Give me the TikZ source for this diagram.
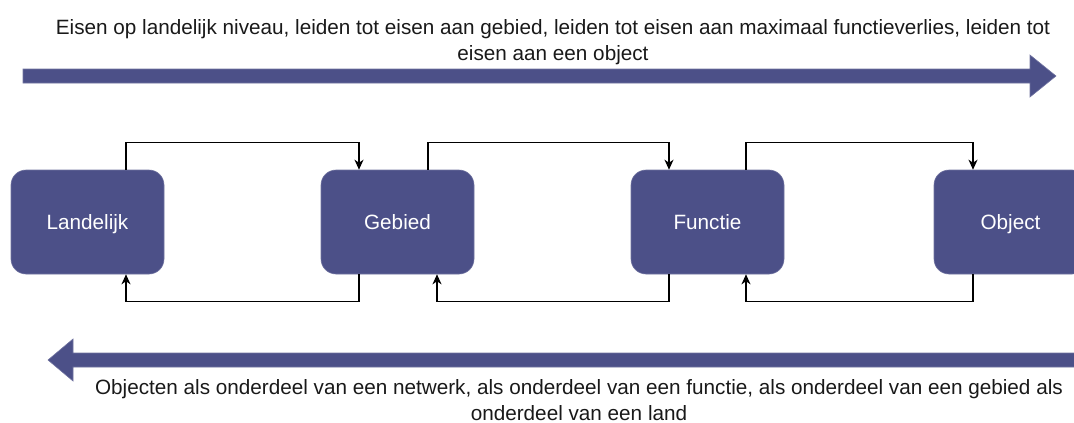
\documentclass[tikz,border=0pt]{standalone}
\usepackage{fontspec}
\setmainfont{Liberation Sans}
\usetikzlibrary{arrows.meta}
\definecolor{boxblue}{HTML}{4C5088}

\begin{document}
\begin{tikzpicture}[x=1pt,y=-1pt,
    blok/.style={rectangle,rounded corners=15pt,fill=boxblue,draw=boxblue!80!white,line width=0.6pt,
      minimum width=153pt,minimum height=104pt,inner sep=0pt,text height=15pt,text depth=0pt,
      text=white,font=\fontsize{20.7}{24}\selectfont},
    pijl/.style={line width=1.3pt,-{Stealth[length=10pt,width=9pt,inset=3pt]}},
    tekst/.style={align=center,inner sep=0pt,text=black!90,font=\fontsize{20.7}{26}\selectfont}]
  \useasboundingbox (0,0) rectangle (1074,423);
  % brede pijlen boven en onder
  \filldraw[boxblue,draw=boxblue!80!white,line width=0.6pt] (23,69) -- (1030,69) -- (1030,55) -- (1056,76)
    -- (1030,97) -- (1030,83) -- (23,83) -- cycle;
  \filldraw[boxblue,draw=boxblue!80!white,line width=0.6pt] (1080,353) -- (73,353) -- (73,339) -- (48,360)
    -- (73,381) -- (73,367) -- (1080,367) -- cycle;
  \node[tekst] (boven) at (553,42) {Eisen op landelijk niveau, leiden tot eisen aan gebied, leiden tot eisen aan maximaal functieverlies, leiden tot\\eisen aan een object};
  \node[tekst] (onder) at (579,400) {Objecten als onderdeel van een netwerk, als onderdeel van een functie, als onderdeel van een gebied als\\onderdeel van een land};
  % niveaus
  \node[blok] (land) at (87.5,222) {Landelijk};
  \node[blok] (geb) at (397.5,222) {Gebied};
  \node[blok] (func) at (707.5,222) {Functie};
  \node[blok] (obj) at (1010.5,222) {Object};
  % naar rechts, over de bovenkant
  \draw[pijl] ([xshift=38.5pt]land.north) -- ++(0,-27) -| ([xshift=-38.5pt]geb.north);
  \draw[pijl] ([xshift=30.5pt]geb.north) -- ++(0,-27) -| ([xshift=-38.5pt]func.north);
  \draw[pijl] ([xshift=38.5pt]func.north) -- ++(0,-27) -| ([xshift=-37.5pt]obj.north);
  % terug, over de onderkant
  \draw[pijl] ([xshift=-38.5pt]geb.south) -- ++(0,27) -| ([xshift=38.5pt]land.south);
  \draw[pijl] ([xshift=-38.5pt]func.south) -- ++(0,27) -| ([xshift=39.5pt]geb.south);
  \draw[pijl] ([xshift=-37.5pt]obj.south) -- ++(0,27) -| ([xshift=38.5pt]func.south);
\end{tikzpicture}
\end{document}
